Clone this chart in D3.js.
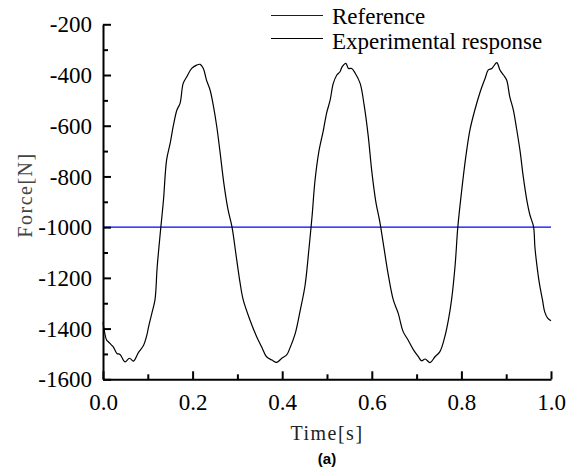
<!DOCTYPE html>
<html><head><meta charset="utf-8">
<script src="https://cdn.jsdelivr.net/npm/d3@7/dist/d3.min.js"></script>
<style>html,body{margin:0;padding:0;background:#fff;}svg{display:block;}</style>
</head><body>
<script>
const timeValues = [0.000,0.008,0.012,0.019,0.023,0.031,0.038,0.049,0.059,0.068,0.079,0.090,0.098,0.101,0.109,0.116,0.121,0.129,0.135,0.142,0.150,0.157,0.165,0.172,0.179,0.187,0.198,0.209,0.217,0.224,0.231,0.239,0.246,0.254,0.261,0.270,0.279,0.288,0.297,0.306,0.313,0.328,0.343,0.354,0.365,0.377,0.388,0.399,0.410,0.417,0.429,0.440,0.451,0.460,0.467,0.473,0.482,0.492,0.499,0.507,0.514,0.522,0.529,0.534,0.542,0.548,0.555,0.563,0.574,0.583,0.592,0.600,0.609,0.618,0.627,0.636,0.648,0.659,0.670,0.681,0.693,0.704,0.711,0.719,0.730,0.741,0.752,0.763,0.771,0.778,0.786,0.792,0.801,0.810,0.819,0.830,0.842,0.853,0.860,0.868,0.879,0.886,0.894,0.901,0.908,0.916,0.923,0.931,0.938,0.946,0.953,0.961,0.964,0.968,0.974,0.981,0.986,0.993,1.000];
const responseValues = [-1375,-1445,-1452,-1465,-1472,-1498,-1502,-1531,-1517,-1528,-1495,-1468,-1425,-1399,-1340,-1287,-1156,-1002,-893,-735,-669,-600,-538,-512,-433,-407,-374,-361,-358,-374,-420,-459,-518,-604,-700,-830,-930,-1000,-1110,-1220,-1287,-1366,-1432,-1472,-1511,-1524,-1533,-1517,-1504,-1478,-1420,-1330,-1230,-1080,-950,-820,-700,-617,-551,-499,-433,-400,-387,-367,-354,-374,-374,-393,-433,-520,-640,-780,-900,-980,-1080,-1180,-1287,-1340,-1412,-1445,-1484,-1511,-1527,-1520,-1534,-1511,-1491,-1432,-1366,-1287,-1150,-1000,-850,-720,-617,-538,-466,-413,-380,-374,-351,-380,-400,-420,-486,-538,-610,-700,-800,-893,-952,-998,-1077,-1143,-1221,-1287,-1334,-1360,-1369];
const referenceTimes = [0, 1];
const referenceValues = [-1000, -1000];
const xTicks = [0, 0.2, 0.4, 0.6, 0.8, 1.0];
const xMinorTicks = [0.1, 0.3, 0.5, 0.7, 0.9];
const yTicks = [-200, -400, -600, -800, -1000, -1200, -1400, -1600];
const yMinorTicks = [-300, -500, -700, -900, -1100, -1300, -1500];
const legendLabels = ["Reference", "Experimental response"];

const W = 580, H = 472;
const svg = d3.select("body").append("svg").attr("width", W).attr("height", H);
svg.append("rect").attr("width", W).attr("height", H).attr("fill", "#fff");

const x = d3.scaleLinear().domain([0, 1]).range([103, 551]);
const y = d3.scaleLinear().domain([-1600, -200]).range([379.3, 24.3]);

const serif = "Liberation Serif, Times New Roman, serif";
const blue = "#0000ff";

// data lines
const line = d3.line().x(d => x(d[0])).y(d => y(d[1]));
svg.append("path")
  .datum(referenceTimes.map((t, i) => [t, referenceValues[i]]))
  .attr("d", line).attr("fill", "none").attr("stroke", blue).attr("stroke-width", 1.1);
svg.append("path")
  .datum(timeValues.map((t, i) => [t, responseValues[i]]))
  .attr("d", line.curve(d3.curveCatmullRom.alpha(0.5))).attr("fill", "none")
  .attr("stroke", "#000").attr("stroke-width", 1.2).attr("stroke-linejoin", "round");

// axes
svg.append("g").attr("transform", "translate(0,379.3)")
  .call(d3.axisBottom(x).tickValues(xTicks).tickSizeInner(-8).tickSizeOuter(0).tickPadding(14).tickFormat(d => d.toFixed(1)));
svg.append("g").attr("transform", "translate(0,379.3)")
  .call(d3.axisBottom(x).tickValues(xMinorTicks).tickSizeInner(-5).tickSizeOuter(0).tickFormat(""))
  .select(".domain").remove();
const yAxis = svg.append("g").attr("transform", "translate(103,0)")
  .call(d3.axisLeft(y).tickValues(yTicks).tickSizeInner(-8).tickSizeOuter(0).tickPadding(11).tickFormat(d => String(d)));
svg.append("g").attr("transform", "translate(103,0)")
  .call(d3.axisLeft(y).tickValues(yMinorTicks).tickSizeInner(-5).tickSizeOuter(0).tickFormat(""))
  .select(".domain").remove();

svg.selectAll("g").attr("font-family", serif);
svg.selectAll(".domain").attr("stroke", "#000").attr("stroke-width", 2);
svg.selectAll(".tick line").attr("stroke", "#000").attr("stroke-width", 2);
svg.selectAll(".tick text").style("font-family", serif).style("font-size", "23px").attr("fill", "#000");
yAxis.selectAll(".tick text").attr("dy", "0.33em");

// axis titles
svg.append("text").attr("x", 327).attr("y", 440).attr("text-anchor", "middle")
  .style("font-family", serif).style("font-size", "20px").attr("letter-spacing", 1.5).attr("fill", "#222").text("Time[s]");
svg.append("text").attr("transform", "translate(32,195) rotate(-90)").attr("text-anchor", "middle")
  .style("font-family", serif).style("font-size", "20px").attr("letter-spacing", 1.5).attr("fill", "#444").text("Force[N]");
svg.append("text").attr("x", 327).attr("y", 464).attr("text-anchor", "middle")
  .style("font-family", "Liberation Sans, Arial, sans-serif").attr("font-weight", "bold").style("font-size", "15px").attr("fill", "#000").text("(a)");

// legend
const legColors = [blue, "#000"];
const legY = [15.5, 38.5];
const legBase = [24, 49];
legendLabels.forEach((lab, i) => {
  svg.append("line").attr("x1", 271).attr("x2", 323).attr("y1", legY[i]).attr("y2", legY[i])
    .attr("stroke", legColors[i]).attr("stroke-width", 1.1);
  svg.append("text").attr("x", 332).attr("y", legBase[i]).style("font-family", serif).style("font-size", "23px")
    .attr("fill", "#000").text(lab);
});
</script>
</body></html>
